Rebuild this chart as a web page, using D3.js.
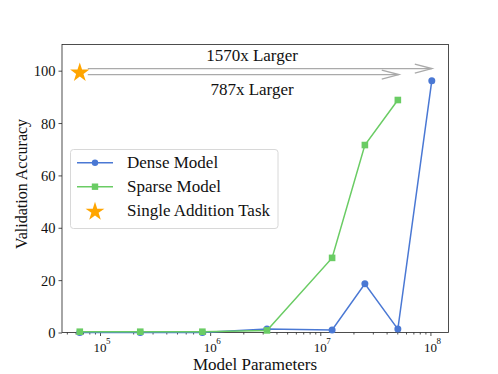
<!DOCTYPE html>
<html><head><meta charset="utf-8">
<script src="https://cdn.jsdelivr.net/npm/d3@7"></script>
<style>body{margin:0;background:#fff}svg{display:block}text{font-family:"Liberation Serif","Times New Roman",serif;fill:#111}</style>
</head><body>
<svg id="c" width="498" height="374"></svg>
<script>
const denseParams = [65536, 232000, 850000, 3280000, 12800000, 25400000, 50600000, 102900000];
const denseAcc    = [0, 0, 0, 1.3, 1.0, 18.6, 1.3, 96.2];
const sparseParams = [65536, 232000, 850000, 3280000, 12800000, 25400000, 50600000];
const sparseAcc    = [0.3, 0.3, 0.3, 0.8, 28.5, 71.6, 88.8];
const starPoint = [65536, 99.6];
const arrowLabels = ["1570x Larger", "787x Larger"];
const arrowEnds = [65536 * 1570, 65536 * 787];
const arrowLevels = [100.8, 98.5];
const yTicks = [0, 20, 40, 60, 80, 100];
const xTicks = [1e5, 1e6, 1e7, 1e8];
const legendLabels = ["Dense Model", "Sparse Model", "Single Addition Task"];

const blue = "#4a78d4", green = "#6acc64", orange = "#ffa500", grey = "#aaaaaa";
const L = 62, R = 448.5, T = 44.5, B = 332.5;
const svg = d3.select("#c");
const x = d3.scaleLog().domain([Math.pow(10, 4.655), Math.pow(10, 8.164)]).range([L, R]);
const y = d3.scaleLinear().domain([0, 110]).range([B, T]);

// axes
const yAxis = d3.axisLeft(y).tickValues(yTicks).tickSize(3.5).tickPadding(3);
const gy = svg.append("g").attr("transform", `translate(${L},0)`).call(yAxis);
gy.selectAll("text").style("font-size", "14.5px").attr("dy", "0.35em");

const minor = [];
for (let e = 4; e <= 8; e++) for (let k = 2; k <= 9; k++) { const v = k * Math.pow(10, e); if (v >= x.domain()[0] && v <= x.domain()[1]) minor.push(v); }
const gxm = svg.append("g").attr("transform", `translate(0,${B})`)
  .call(d3.axisBottom(x).tickValues(minor).tickSize(2).tickFormat(""));
const gx = svg.append("g").attr("transform", `translate(0,${B})`)
  .call(d3.axisBottom(x).tickValues(xTicks).tickSize(3.5).tickFormat(""));
[gy, gx, gxm].forEach(g => { g.select(".domain").remove(); g.selectAll("line").attr("stroke", "#222").attr("stroke-width", 0.8); });
gx.selectAll(".tick").each(function(d) {
  const t = d3.select(this).append("text").attr("y", 19.3).attr("x", 1.5).attr("text-anchor", "middle").style("font-size", "13px");
  t.append("tspan").text("10");
  t.append("tspan").attr("dy", -8).attr("dx", -0.5).style("font-size", "9px").text(Math.round(Math.log10(d)));
});

svg.append("rect").attr("x", L).attr("y", T).attr("width", R - L).attr("height", B - T)
  .attr("fill", "none").attr("stroke", "#222").attr("stroke-width", 0.8);

// arrows
arrowEnds.forEach((end, i) => {
  const yy = y(arrowLevels[i]), x0 = x(starPoint[0]) + 8, x1 = x(end);
  svg.append("line").attr("x1", x0).attr("x2", x1).attr("y1", yy).attr("y2", yy).attr("stroke", grey).attr("stroke-width", 1.4);
  svg.append("path").attr("d", `M${x1 - 17},${yy - 4.5}L${x1},${yy}L${x1 - 17},${yy + 4.5}`)
    .attr("fill", "none").attr("stroke", grey).attr("stroke-width", 1.4);
});
svg.append("text").attr("x", 252).attr("y", 61).attr("text-anchor", "middle").style("font-size", "17px").text(arrowLabels[0]);
svg.append("text").attr("x", 252).attr("y", 95).attr("text-anchor", "middle").style("font-size", "17px").text(arrowLabels[1]);

// series
const line = d3.line().x(d => x(d[0])).y(d => y(d[1]));
const dense = denseParams.map((p, i) => [p, denseAcc[i]]);
const sparse = sparseParams.map((p, i) => [p, sparseAcc[i]]);
svg.append("path").datum(dense).attr("d", line).attr("fill", "none").attr("stroke", blue).attr("stroke-width", 1.5);
svg.selectAll(".dd").data(dense).enter().append("circle").attr("cx", d => x(d[0])).attr("cy", d => y(d[1])).attr("r", 3.5).attr("fill", blue);
svg.append("path").datum(sparse).attr("d", line).attr("fill", "none").attr("stroke", green).attr("stroke-width", 1.5);
svg.selectAll(".sd").data(sparse).enter().append("rect").attr("x", d => x(d[0]) - 3.3).attr("y", d => y(d[1]) - 3.3).attr("width", 6.6).attr("height", 6.6).attr("fill", green);

const star = d3.symbol().type(d3.symbolStar);
svg.append("path").attr("d", star.size(115)()).attr("transform", `translate(${x(starPoint[0])},${y(starPoint[1]) + 1})`).attr("fill", orange);

// legend
svg.append("rect").attr("x", 70.5).attr("y", 149.5).attr("width", 207.5).attr("height", 79).attr("rx", 3)
  .attr("fill", "white").attr("fill-opacity", 0.8).attr("stroke", "#d8d8d8").attr("stroke-width", 1);
const rows = [162.7, 186.7, 210.7];
svg.append("line").attr("x1", 77).attr("x2", 113).attr("y1", rows[0]).attr("y2", rows[0]).attr("stroke", blue).attr("stroke-width", 1.5);
svg.append("circle").attr("cx", 95).attr("cy", rows[0]).attr("r", 3.2).attr("fill", blue);
svg.append("line").attr("x1", 77).attr("x2", 113).attr("y1", rows[1]).attr("y2", rows[1]).attr("stroke", green).attr("stroke-width", 1.5);
svg.append("rect").attr("x", 91.8).attr("y", rows[1] - 3.2).attr("width", 6.4).attr("height", 6.4).attr("fill", green);
svg.append("path").attr("d", star.size(110)()).attr("transform", `translate(95,${rows[2] + 1})`).attr("fill", orange);
legendLabels.forEach((t, i) => svg.append("text").attr("x", 127).attr("y", rows[i] + 5.5).style("font-size", "17px").text(t));

// axis labels
svg.append("text").attr("x", 255).attr("y", 370).attr("text-anchor", "middle").style("font-size", "17px").text("Model Parameters");
svg.append("text").attr("transform", `translate(27,184) rotate(-90)`).attr("text-anchor", "middle").style("font-size", "16px").text("Validation Accuracy");
</script>
</body></html>
